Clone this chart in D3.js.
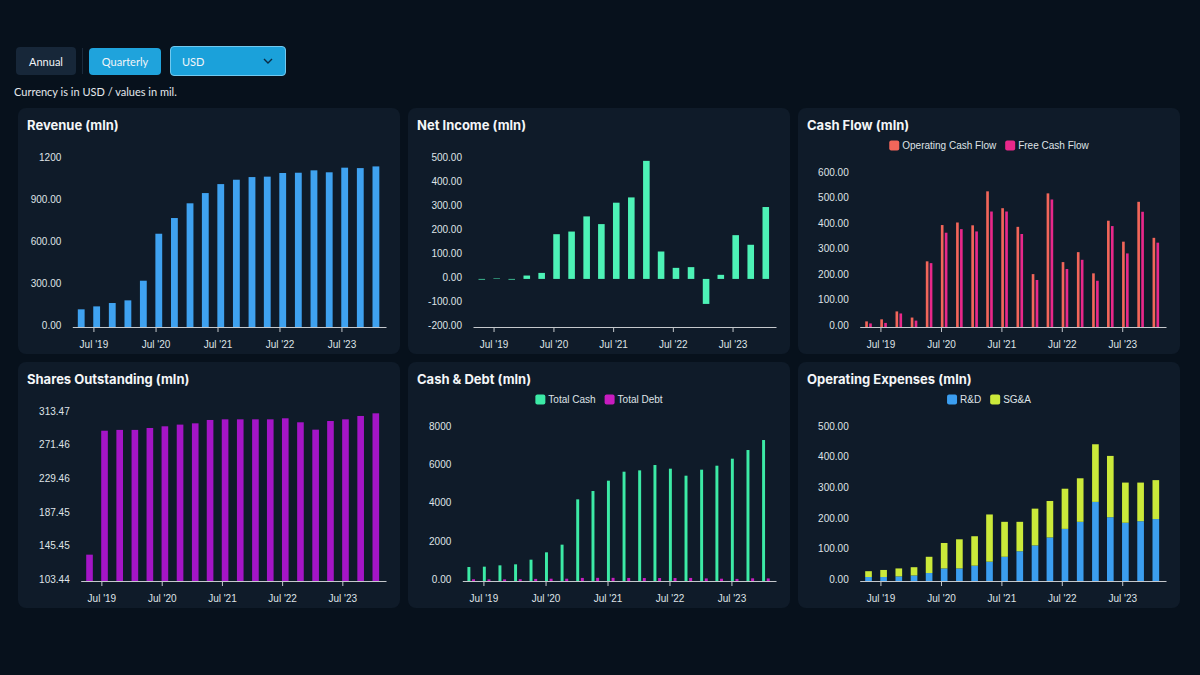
<!DOCTYPE html>
<html>
<head>
<meta charset="utf-8">
<script src="https://cdn.jsdelivr.net/npm/d3@7"></script>
<style>
  html, body { margin: 0; padding: 0; }
  body { width: 1200px; height: 675px; background: #07111c; position: relative; overflow: hidden;
         font-family: "Lato", "Open Sans", sans-serif; }
  #charts { position: absolute; left: 0; top: 0; z-index: 1; }
  .controls { position: absolute; left: 0; top: 0; width: 1200px; height: 100px; z-index: 2; }
  .btn { position: absolute; color: #f2f5f8; font-size: 11px; display: flex; align-items: center;
         justify-content: center; border-radius: 4px; box-sizing: border-box; white-space: nowrap; }
  .annual { left: 16px; top: 47px; width: 60px; height: 28px; background: #172739; }
  .divider { position: absolute; left: 82px; top: 48px; width: 1px; height: 26px; background: #1b2a3b; }
  .quarterly { left: 89px; top: 48px; width: 72px; height: 27px; background: #1fa3dc; }
  .usd { left: 170px; top: 46px; width: 116px; height: 30px; background: #1ba1da; border: 1px solid #71c9ef;
         justify-content: flex-start; padding-left: 11px; }
  .usd svg { position: absolute; left: 92px; top: 11px; }
  .note { position: absolute; left: 14px; top: 85px; color: #e4e8ec; font-size: 11px; white-space: nowrap; }
  .title { font-family: "Inter", sans-serif; font-weight: 700; font-size: 13px; fill: #f4f6f8; }
  .axis text { font-family: "Liberation Sans", Arial, sans-serif; font-size: 10px; fill: #dfe3e7; }
  .legend text { font-family: "Liberation Sans", Arial, sans-serif; font-size: 10px; fill: #dfe3e7; }
</style>
</head>
<body>
<div id="charts"></div>
<div class="controls">
  <div class="btn annual">Annual</div>
  <div class="divider"></div>
  <div class="btn quarterly">Quarterly</div>
  <div class="btn usd">USD
    <svg width="10" height="7"><path d="M1,1 L5,5 L9,1" fill="none" stroke="#0b2b44" stroke-width="1.4"/></svg>
  </div>
  <div class="note">Currency is in USD / values in mil.</div>
</div>
<script>
// Quarter end dates (20 quarters)
let quarters = ["2019-03-31","2019-06-30","2019-09-30","2019-12-31",
                "2020-03-31","2020-06-30","2020-09-30","2020-12-31",
                "2021-03-31","2021-06-30","2021-09-30","2021-12-31",
                "2022-03-31","2022-06-30","2022-09-30","2022-12-31",
                "2023-03-31","2023-06-30","2023-09-30","2023-12-31"];
let yearTicks = ["2019-07-01","2020-07-01","2021-07-01","2022-07-01","2023-07-01"];

// Series values (mln)
let revenue = [126,147,171,190,330,665,777,882,955,1019,1050,1069,1072,1098,1100,1117,1103,1136,1133,1145];
let netIncome = [-3,2,-3,14,25,186,197,260,228,317,339,491,114,46,49,-104,17,182,142,299];
let operatingCF = [22,30,61,37,257,399,409,398,531,465,392,207,523,254,293,210,416,334,490,349];
let freeCF = [14,16,53,25,250,369,383,374,452,452,364,184,499,227,263,181,395,288,451,330];
let shares = [136.3,291,292,292,294.4,296.5,298.6,300.2,304.4,305.2,305.2,305.2,305.2,306.5,301.5,292.3,303.1,305.2,309.4,312.7];
let totalCash = [730,748,817,870,1113,1496,1896,4261,4696,5235,5704,5774,6052,5861,5496,5809,6017,6383,6835,7357];
let totalDebt = [90,85,85,95,110,120,120,160,165,165,160,155,155,155,160,135,120,110,140,135];
let rnd = [13,13,15,18,26,41,41,50,63,79,97,116,142,170,193,258,208,190,195,202];
let sga = [19,23,26,27,53,83,95,96,154,114,96,120,119,131,142,188,200,131,126,127];

// Y tick values and labels
let revenueTicks = [0,300,600,900,1200];
let revenueLabels = ["0.00","300.00","600.00","900.00","1200"];
let netIncomeTicks = [-200,-100,0,100,200,300,400,500];
let netIncomeLabels = ["-200.00","-100.00","0.00","100.00","200.00","300.00","400.00","500.00"];
let cashFlowTicks = [0,100,200,300,400,500,600];
let cashFlowLabels = ["0.00","100.00","200.00","300.00","400.00","500.00","600.00"];
let sharesTicks = [103.44,145.45,187.45,229.46,271.46,313.47];
let sharesLabels = ["103.44","145.45","187.45","229.46","271.46","313.47"];
let cashDebtTicks = [0,2000,4000,6000,8000];
let cashDebtLabels = ["0.00","2000","4000","6000","8000"];
let opexTicks = [0,100,200,300,400,500];
let opexLabels = ["0.00","100.00","200.00","300.00","400.00","500.00"];

let parseDate = d3.timeParse("%Y-%m-%d");
let dates = quarters.map(parseDate);
let julys = yearTicks.map(parseDate);

let cardW = 382, cardH = 246;

let svg = d3.select("#charts").append("svg")
    .attr("width", 1200)
    .attr("height", 675);

// Draws one card with its axes; returns scales for the marks
function card(col, row, opt) {
    let g = svg.append("g")
        .attr("transform", `translate(${18 + col * 390},${108 + row * 254})`);

    g.append("rect")
        .attr("width", cardW).attr("height", cardH)
        .attr("rx", 8)
        .attr("fill", "#0f1b29");

    g.append("text")
        .attr("class", "title")
        .attr("x", 9).attr("y", 22)
        .text(opt.title);

    let left = opt.left, right = 368, bottom = 219;
    let top = opt.legend ? 65.7 : 50.7;

    // bar left edges sit on the quarter date; axis padded around them
    let x0 = d3.scaleTime().domain(d3.extent(dates)).range([left + 5.5, right - 13.5]);
    let x = d3.scaleTime().domain([x0.invert(left), x0.invert(right)]).range([left, right]);
    let q = (x(dates[dates.length - 1]) - x(dates[0])) / (dates.length - 1);

    let y = d3.scaleLinear().domain(opt.yDomain).range([bottom, top]);

    let ya = g.append("g")
        .attr("class", "axis")
        .attr("transform", `translate(${left},0)`)
        .call(d3.axisLeft(y).tickValues(opt.ticks).tickFormat((d, i) => opt.labels[i])
            .tickSize(0).tickPadding(11));
    ya.select(".domain").remove();
    ya.selectAll("text").attr("y", -1.7);

    let xa = g.append("g")
        .attr("class", "axis")
        .attr("transform", `translate(0,${bottom})`)
        .call(d3.axisBottom(x).tickValues(julys).tickFormat(d3.timeFormat("Jul '%y"))
            .tickSize(5).tickSizeOuter(0).tickPadding(9));
    xa.select(".domain").attr("stroke", "#c4c8cc");
    xa.selectAll(".tick line").attr("stroke", "#c4c8cc");

    if (opt.legend) {
        let lg = g.append("g").attr("class", "legend");
        let pos = 0;
        opt.legend.forEach(item => {
            let it = lg.append("g").attr("transform", `translate(${pos},0)`);
            it.append("rect")
                .attr("x", 0).attr("y", -5)
                .attr("width", 10).attr("height", 10)
                .attr("rx", 2)
                .attr("fill", item.color);
            let t = it.append("text")
                .attr("x", 13).attr("y", 3.6)
                .text(item.name);
            pos += 13 + t.node().getComputedTextLength() + 9;
        });
        let w = pos - 9;
        lg.attr("transform", `translate(${(cardW - w) / 2},37.5)`);
    }

    let marks = g.insert("g", ".axis");
    return {g: marks, x: x, y: y, q: q};
}

// Single bar per quarter
function singleBars(c, values, color, base) {
    let bw = 0.44 * c.q;
    c.g.selectAll(null)
        .data(values.map((v, i) => ({date: dates[i], v: v})))
        .enter().append("rect")
        .attr("x", d => c.x(d.date))
        .attr("width", bw)
        .attr("y", d => c.y(Math.max(d.v, base)))
        .attr("height", d => Math.abs(c.y(d.v) - c.y(base)))
        .attr("fill", color);
}

// Two thin bars per quarter
function pairBars(c, a, b, colors, wf, of) {
    let bw = 0.44 * c.q, w = wf * c.q, off = of * c.q;
    [a, b].forEach((values, k) => {
        c.g.selectAll(null)
            .data(values.map((v, i) => ({date: dates[i], v: v})))
            .enter().append("rect")
            .attr("x", d => c.x(d.date) + bw / 2 + (k ? off / 2 : -off / 2) - w / 2)
            .attr("width", w)
            .attr("y", d => c.y(d.v))
            .attr("height", d => c.y(0) - c.y(d.v))
            .attr("fill", colors[k]);
    });
}

// Revenue
let c1 = card(0, 0, {title: "Revenue (mln)", left: 54.3, yDomain: [0, 1200],
    ticks: revenueTicks, labels: revenueLabels});
singleBars(c1, revenue, "#3fa2f0", 0);

// Net income
let c2 = card(1, 0, {title: "Net Income (mln)", left: 65, yDomain: [-200, 500],
    ticks: netIncomeTicks, labels: netIncomeLabels});
singleBars(c2, netIncome, "#4df2b6", 0);

// Cash flow
let c3 = card(2, 0, {title: "Cash Flow (mln)", left: 61.7, yDomain: [0, 600],
    ticks: cashFlowTicks, labels: cashFlowLabels,
    legend: [{name: "Operating Cash Flow", color: "#f2665a"}, {name: "Free Cash Flow", color: "#e8288a"}]});
pairBars(c3, operatingCF, freeCF, ["#f2665a", "#e8288a"], 0.175, 0.26);

// Shares outstanding
let c4 = card(0, 1, {title: "Shares Outstanding (mln)", left: 62.7, yDomain: [103.44, 313.47],
    ticks: sharesTicks, labels: sharesLabels});
singleBars(c4, shares, "#a415c6", 103.44);

// Cash & debt
let c5 = card(1, 1, {title: "Cash & Debt (mln)", left: 54.3, yDomain: [0, 8000],
    ticks: cashDebtTicks, labels: cashDebtLabels,
    legend: [{name: "Total Cash", color: "#3ceaa6"}, {name: "Total Debt", color: "#c81cbf"}]});
pairBars(c5, totalCash, totalDebt, ["#3ceaa6", "#c81cbf"], 0.19, 0.3);

// Operating expenses (stacked)
let c6 = card(2, 1, {title: "Operating Expenses (mln)", left: 61.7, yDomain: [0, 500],
    ticks: opexTicks, labels: opexLabels,
    legend: [{name: "R&D", color: "#3b9ef0"}, {name: "SG&A", color: "#cbe93a"}]});

let stackData = quarters.map((q, i) => ({date: dates[i], rnd: rnd[i], sga: sga[i]}));
let stack = d3.stack().keys(["rnd", "sga"])(stackData);
let opexColors = {rnd: "#3b9ef0", sga: "#cbe93a"};
let bw6 = 0.44 * c6.q;
c6.g.selectAll(".layer")
    .data(stack)
    .enter().append("g")
    .attr("fill", d => opexColors[d.key])
    .selectAll("rect")
    .data(d => d)
    .enter().append("rect")
    .attr("x", d => c6.x(d.data.date))
    .attr("width", bw6)
    .attr("y", d => c6.y(d[1]))
    .attr("height", d => c6.y(d[0]) - c6.y(d[1]));
</script>
</body>
</html>
